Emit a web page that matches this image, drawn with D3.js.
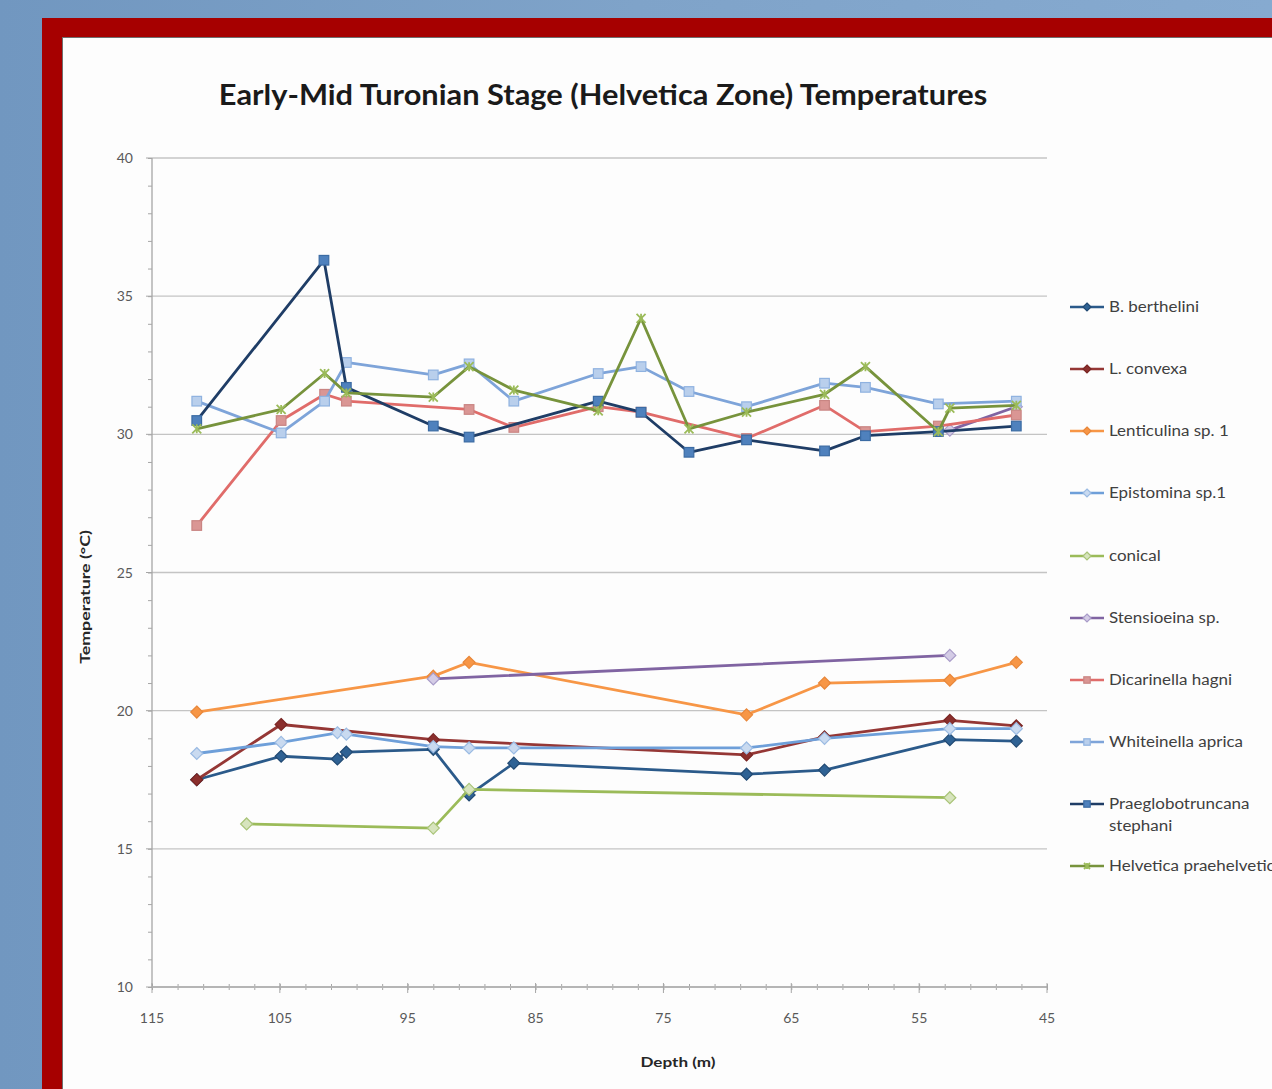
<!DOCTYPE html>
<html>
<head>
<meta charset="utf-8">
<script src="https://cdn.jsdelivr.net/npm/d3@7"></script>
<style>
  body { margin: 0; overflow: hidden; }
  svg { display: block; }
  text { font-family: Lato, "Open Sans", sans-serif; }
</style>
</head>
<body>
<div id="chart"></div>
<script>
// depth (m) / temperature (°C), null = break in the line
const bBerthDepth = [111.5, 104.9, 100.5, 99.8, 93, 90.2, 86.7, 68.5, 62.4, 52.6, 47.4]
const bBerthTemp = [17.5, 18.35, 18.25, 18.5, 18.6, 16.95, 18.1, 17.7, 17.85, 18.95, 18.9]

const lConvDepth = [111.5, 104.9, 93, 68.5, 62.4, 52.6, 47.4]
const lConvTemp = [17.5, 19.5, 18.95, 18.4, 19.05, 19.65, 19.45]

const lentDepth = [111.5, 93, 90.2, 68.5, 62.4, 52.6, 47.4]
const lentTemp = [19.95, 21.25, 21.75, 19.85, 21.0, 21.1, 21.75]

const epistDepth = [111.5, 104.9, 100.5, 99.8, 93, 90.2, 86.7, 68.5, 62.4, 52.6, 47.4]
const epistTemp = [18.45, 18.85, 19.2, 19.15, 18.7, 18.65, 18.65, 18.65, 19.0, 19.35, 19.35]

const conicalDepth = [107.6, 93, 90.2, 52.6]
const conicalTemp = [15.9, 15.75, 17.15, 16.85]

const stensDepth = [93, 52.6, null, 52.6, 47.4]
const stensTemp = [21.15, 22.0, null, 30.15, 31.0]

const dicarDepth = [111.5, 104.9, 101.5, 99.8, 90.2, 86.7, 80.1, 76.75, 68.5, 62.4, 59.2, 53.5, 47.4]
const dicarTemp = [26.7, 30.5, 31.45, 31.2, 30.9, 30.25, 31.0, 30.8, 29.85, 31.05, 30.1, 30.3, 30.7]

const whiteDepth = [111.5, 104.9, 101.5, 99.8, 93, 90.2, 86.7, 80.1, 76.75, 73, 68.5, 62.4, 59.2, 53.5, 47.4]
const whiteTemp = [31.2, 30.05, 31.2, 32.6, 32.15, 32.55, 31.2, 32.2, 32.45, 31.55, 31.0, 31.85, 31.7, 31.1, 31.2]

const praeDepth = [111.5, 101.55, 99.8, 93, 90.2, 80.1, 76.75, 73, 68.5, 62.4, 59.2, 53.5, 47.4]
const praeTemp = [30.5, 36.3, 31.7, 30.3, 29.9, 31.2, 30.8, 29.35, 29.8, 29.4, 29.95, 30.1, 30.3]

const helvDepth = [111.5, 104.9, 101.5, 99.8, 93, 90.2, 86.7, 80.1, 76.75, 73, 68.5, 62.4, 59.2, 53.5, 52.6, 47.4]
const helvTemp = [30.2, 30.9, 32.2, 31.5, 31.35, 32.45, 31.6, 30.85, 34.2, 30.2, 30.8, 31.45, 32.45, 30.1, 30.95, 31.05]

const seriesNames = ['B. berthelini', 'L. convexa', 'Lenticulina sp. 1', 'Epistomina sp.1', 'conical',
  'Stensioeina sp.', 'Dicarinella hagni', 'Whiteinella aprica', 'Praeglobotruncana stephani', 'Helvetica praehelvetica']

const yTicks = [10, 15, 20, 25, 30, 35, 40]
const xTicks = [115, 105, 95, 85, 75, 65, 55, 45]

const width = 1272, height = 1089

// line colour, marker fill, marker stroke, marker shape
const styles = [
  { line: '#2b5a8a', fill: '#2f6294', stroke: '#224a73', shape: 'diamond' },
  { line: '#953735', fill: '#8b2f2d', stroke: '#7a2624', shape: 'diamond' },
  { line: '#f79646', fill: '#f79646', stroke: '#e8873a', shape: 'diamond' },
  { line: '#6e9fd9', fill: '#c9daf0', stroke: '#9bbbe3', shape: 'diamond' },
  { line: '#9bbb59', fill: '#d7e4bd', stroke: '#a9c478', shape: 'diamond' },
  { line: '#8064a2', fill: '#d4cce6', stroke: '#a99cc9', shape: 'diamond' },
  { line: '#e06c6a', fill: '#da9694', stroke: '#c98583', shape: 'square' },
  { line: '#7ea4d9', fill: '#b9cfec', stroke: '#8fb2e0', shape: 'square' },
  { line: '#1f3d66', fill: '#4f81bd', stroke: '#3b6ba3', shape: 'square' },
  { line: '#77933c', fill: 'none', stroke: '#9bbb59', shape: 'star' }
]

const series = [
  [bBerthDepth, bBerthTemp], [lConvDepth, lConvTemp], [lentDepth, lentTemp], [epistDepth, epistTemp],
  [conicalDepth, conicalTemp], [stensDepth, stensTemp], [dicarDepth, dicarTemp], [whiteDepth, whiteTemp],
  [praeDepth, praeTemp], [helvDepth, helvTemp]
].map((d, i) => ({
  name: seriesNames[i],
  style: styles[i],
  points: d[0].map((x, j) => ({ x: x, y: d[1][j] }))
}))

const svg = d3.select('#chart').append('svg')
  .attr('width', width)
  .attr('height', height)

// the slide text is a bit wider than Lato, stretch it
function widen(sel, factor) {
  sel.each(function () {
    const w = this.getComputedTextLength()
    d3.select(this).attr('textLength', w * factor).attr('lengthAdjust', 'spacingAndGlyphs')
  })
}

// slide background + red frame
const defs = svg.append('defs')
const grad = defs.append('linearGradient').attr('id', 'bg').attr('x1', 0).attr('x2', 1).attr('y1', 0).attr('y2', 0)
grad.append('stop').attr('offset', '0%').attr('stop-color', '#7197c0')
grad.append('stop').attr('offset', '50%').attr('stop-color', '#7fa3c9')
grad.append('stop').attr('offset', '100%').attr('stop-color', '#86aad0')
svg.append('rect').attr('width', width).attr('height', height).attr('fill', 'url(#bg)')
svg.append('rect').attr('x', 42).attr('y', 18).attr('width', width).attr('height', height).attr('fill', '#a60000')
svg.append('rect').attr('x', 62).attr('y', 37).attr('width', width).attr('height', height).attr('fill', '#6f6f6f')
svg.append('rect').attr('x', 63).attr('y', 38).attr('width', width).attr('height', height).attr('fill', '#fdfdfd')

const x = d3.scaleLinear().domain([115, 45]).range([152, 1047])
const y = d3.scaleLinear().domain([10, 40]).range([987, 158])

// title
svg.append('text')
  .attr('x', 603).attr('y', 105)
  .attr('text-anchor', 'middle')
  .attr('font-size', 28).attr('font-weight', 'bold')
  .attr('fill', '#1a1a1a')
  .text('Early-Mid Turonian Stage (Helvetica Zone) Temperatures')
  .call(widen, 1.1)

// gridlines
svg.append('g').selectAll('line')
  .data(yTicks.filter(t => t > 10))
  .join('line')
  .attr('x1', 152).attr('x2', 1047)
  .attr('y1', d => y(d)).attr('y2', d => y(d))
  .attr('stroke', '#c4c4c4').attr('stroke-width', 1.3)

// y axis
const yAxis = svg.append('g').attr('transform', 'translate(152,0)')
yAxis.call(d3.axisLeft(y).tickValues(d3.range(10, 40.5, 1)).tickSize(4).tickFormat(''))
yAxis.call(g => g.select('.domain').remove())
yAxis.selectAll('.tick line').attr('stroke', '#a6a6a6')
yAxis.append('line').attr('x1', 0).attr('x2', 0).attr('y1', y(40)).attr('y2', y(10))
  .attr('stroke', '#a6a6a6').attr('stroke-width', 1.3)
yAxis.selectAll('.ylab').data(yTicks).join('text')
  .attr('class', 'ylab')
  .attr('x', -19).attr('y', d => y(d) + 5)
  .attr('text-anchor', 'end')
  .attr('font-size', 14).attr('fill', '#595959')
  .text(d => d)
yAxis.selectAll('.ymaj').data(yTicks).join('line')
  .attr('class', 'ymaj')
  .attr('x1', -6).attr('x2', 0).attr('y1', d => y(d)).attr('y2', d => y(d))
  .attr('stroke', '#a6a6a6')

// x axis
const xAxis = svg.append('g').attr('transform', 'translate(0,' + y(10) + ')')
xAxis.call(d3.axisBottom(x).tickValues(d3.range(45, 115.5, 2)).tickSize(3).tickFormat(''))
xAxis.call(g => g.select('.domain').remove())
xAxis.selectAll('.tick line').attr('stroke', '#a6a6a6').attr('y1', -3)
xAxis.append('line').attr('x1', x(115)).attr('x2', x(45))
  .attr('stroke', '#b5b5b5').attr('stroke-width', 2)
xAxis.selectAll('.xmaj').data(xTicks).join('line')
  .attr('class', 'xmaj')
  .attr('x1', d => x(d)).attr('x2', d => x(d)).attr('y1', -4).attr('y2', 6)
  .attr('stroke', '#a6a6a6')
xAxis.selectAll('.xlab').data(xTicks).join('text')
  .attr('class', 'xlab')
  .attr('x', d => x(d)).attr('y', 36)
  .attr('text-anchor', 'middle')
  .attr('font-size', 14).attr('fill', '#595959')
  .text(d => d)

// axis titles
svg.append('text')
  .attr('transform', 'translate(90,597) rotate(-90)')
  .attr('text-anchor', 'middle')
  .attr('font-size', 14).attr('font-weight', 'bold').attr('fill', '#262626')
  .text('Temperature (°C)')
  .call(widen, 1.27)
svg.append('text')
  .attr('x', 678).attr('y', 1067)
  .attr('text-anchor', 'middle')
  .attr('font-size', 14).attr('font-weight', 'bold').attr('fill', '#262626')
  .text('Depth (m)')
  .call(widen, 1.22)

function drawMarker(g, s, cx, cy, size) {
  if (s.shape === 'diamond') {
    g.append('path')
      .attr('d', `M${cx},${cy - size}L${cx + size},${cy}L${cx},${cy + size}L${cx - size},${cy}Z`)
      .attr('fill', s.fill).attr('stroke', s.stroke).attr('stroke-width', 1.2)
  } else if (s.shape === 'square') {
    const h = size * 0.8
    g.append('rect')
      .attr('x', cx - h).attr('y', cy - h).attr('width', h * 2).attr('height', h * 2)
      .attr('fill', s.fill).attr('stroke', s.stroke).attr('stroke-width', 1.2)
  } else {
    const h = size * 0.75
    g.append('path')
      .attr('d', `M${cx - h},${cy - h}L${cx + h},${cy + h}M${cx + h},${cy - h}L${cx - h},${cy + h}M${cx},${cy - h}L${cx},${cy + h}`)
      .attr('stroke', s.stroke).attr('stroke-width', 1.8).attr('fill', 'none')
  }
}

const line = d3.line()
  .defined(d => d.x != null && d.y != null)
  .x(d => x(d.x))
  .y(d => y(d.y))

const plot = svg.append('g')
series.forEach(sr => {
  const g = plot.append('g')
  g.append('path')
    .datum(sr.points)
    .attr('d', line)
    .attr('fill', 'none')
    .attr('stroke', sr.style.line)
    .attr('stroke-width', 2.8)
    .attr('stroke-linejoin', 'round')
  sr.points.filter(p => p.x != null).forEach(p => {
    drawMarker(g, sr.style, x(p.x), y(p.y), 6)
  })
})

// legend
const legendY = [307, 369, 431, 493, 556, 618, 680, 742, 804, 866]
const legend = svg.append('g')
series.forEach((sr, i) => {
  const ly = legendY[i]
  legend.append('line')
    .attr('x1', 1070).attr('x2', 1104).attr('y1', ly).attr('y2', ly)
    .attr('stroke', sr.style.line).attr('stroke-width', 2.6)
  drawMarker(legend, sr.style, 1087, ly, 4)
  const words = sr.name === 'Praeglobotruncana stephani' ? ['Praeglobotruncana', 'stephani'] : [sr.name]
  words.forEach((w, k) => {
    legend.append('text')
      .attr('x', 1109).attr('y', ly + 5 + k * 22)
      .attr('font-size', 14.5).attr('fill', '#404040')
      .text(w)
      .call(widen, 1.17)
  })
})
</script>
</body>
</html>
